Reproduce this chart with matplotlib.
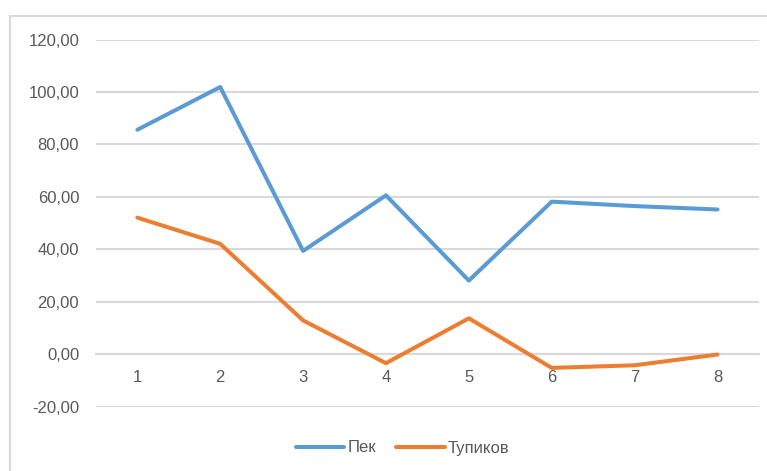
import matplotlib.pyplot as plt
from matplotlib.patches import Rectangle
from matplotlib.ticker import FuncFormatter

plt.rcParams['font.family'] = ['Liberation Sans', 'DejaVu Sans']

# точки измерений
points = [1, 2, 3, 4, 5, 6, 7, 8]
pek = [85.6, 101.9, 39.4, 60.6, 28.1, 58.2, 56.5, 55.2]
tupikov = [52.1, 42.1, 12.9, -3.4, 13.7, -5.2, -4.2, -0.1]

blue = '#5B9BD5'
orange = '#ED7D31'
grid = '#D9D9D9'
text = '#595959'

fig = plt.figure(figsize=(7.67, 4.71), dpi=100)
ax = fig.add_axes([0.125, 0.1365, 0.8645, 0.7795])

# рамка вокруг диаграммы
fig.patches.append(Rectangle((10 / 767, -0.01), 1.0, 1 - 16 / 471 + 0.01,
                             transform=fig.transFigure, fill=False,
                             edgecolor=grid, linewidth=1.5))

ax.plot(points, pek, color=blue, linewidth=2.9, label='Пек',
        solid_capstyle='round', solid_joinstyle='round', zorder=3)
ax.plot(points, tupikov, color=orange, linewidth=2.9, label='Тупиков',
        solid_capstyle='round', solid_joinstyle='round', zorder=3)

ax.set_xlim(0.5, 8.5)
ax.set_ylim(-20, 120)
ax.set_yticks(range(-20, 121, 20))
ax.yaxis.set_major_formatter(FuncFormatter(lambda v, p: f'{v:.2f}'.replace('.', ',')))
ax.set_xticks(points)
ax.set_xticklabels([str(p) for p in points])

ax.grid(axis='y', color=grid, linewidth=1.5)
ax.set_axisbelow(True)
for s in ['top', 'right', 'left']:
    ax.spines[s].set_visible(False)
ax.spines['bottom'].set_position(('data', 0))
ax.spines['bottom'].set_color(grid)
ax.spines['bottom'].set_linewidth(1.5)
ax.tick_params(axis='both', length=0, colors=text, labelsize=12)
ax.tick_params(axis='x', pad=11)
ax.tick_params(axis='y', pad=12)

fig.legend(loc='center', bbox_to_anchor=(0.525, 1 - 448 / 471), ncol=2,
           frameon=False, fontsize=12, handlelength=2.9, handletextpad=0.2,
           columnspacing=1.2, labelcolor=text)

fig.savefig('out.png', dpi=100)
